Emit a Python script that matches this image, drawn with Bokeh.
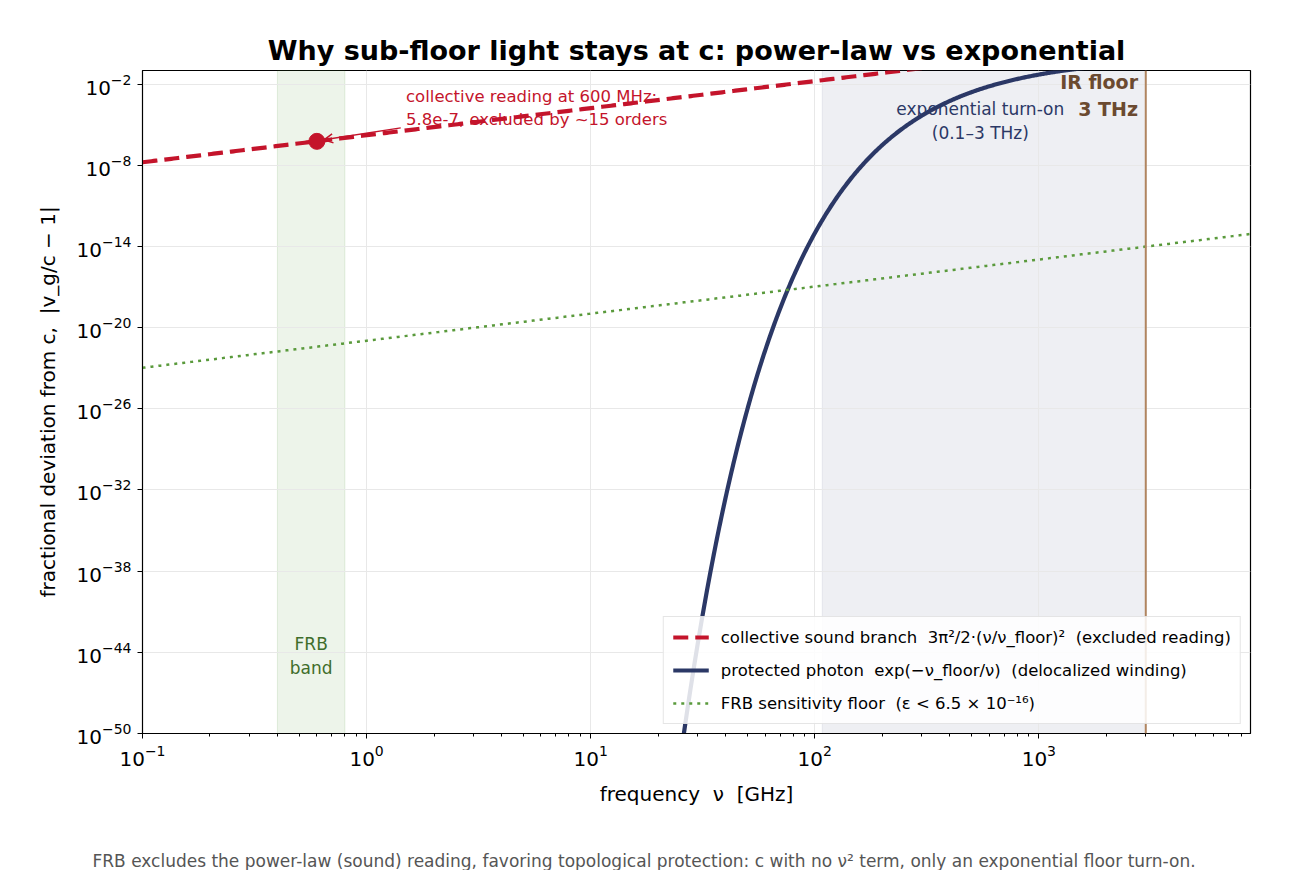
import numpy as np
from bokeh.plotting import figure
from bokeh.models import (Range1d, FixedTicker, LogTicker, BoxAnnotation, Span, Label,
                          Arrow, OpenHead, Legend, LegendItem, Title)
from bokeh.embed import file_html
from bokeh.resources import INLINE

# ---------------- data / parameters ----------------
nu_floor_ghz = 3000.0                 # IR floor, 3 THz
sound_prefactor = 3 * np.pi ** 2 / 2  # 3π²/2
frb_eps = 6.5e-16                     # FRB sensitivity
frb_band_ghz = [0.4, 0.8]
turnon_band_ghz = [108.0, 3000.0]
reading_nu_ghz = [0.6]
reading_value = [5.8e-7]
x_limits = [0.1, 8800.0]
y_limits = [1e-50, 1e-1]
y_tick_values = [1e-50, 1e-44, 1e-38, 1e-32, 1e-26, 1e-20, 1e-14, 1e-8, 1e-2]

nu = np.logspace(np.log10(x_limits[0]), np.log10(x_limits[1]), 500)
sound = sound_prefactor * (nu / nu_floor_ghz) ** 2
frb_floor = frb_eps * sound
nu_ph = np.logspace(np.log10(20.0), np.log10(nu_floor_ghz), 500)
photon = np.exp(-nu_floor_ghz / nu_ph)

RED = "#c4142b"
NAVY = "#2b3866"
GREEN = "#5a9a3c"
BROWN = "#b0855f"
FONT = "DejaVu Sans"
SP = "\u00a0"

p = figure(width=1290, height=870, x_axis_type="log", y_axis_type="log",
           x_range=Range1d(*x_limits), y_range=Range1d(*y_limits),
           output_backend="svg", toolbar_location=None,
           min_border_left=142, min_border_right=40, min_border_top=70,
           min_border_bottom=135)
p.background_fill_color = "white"
p.border_fill_color = "white"
p.outline_line_color = "black"
p.outline_line_width = 1.2

# title
p.title.text = "Why sub-floor light stays at c: power-law vs exponential"
p.title.align = "center"
p.title.text_font = FONT
p.title.text_font_size = "27px"
p.title.text_font_style = "bold"
p.title.text_color = "black"
p.title.standoff = 10

# footer (two empty lines above push it to the bottom edge of the canvas)
footer = Title(text="\n\nFRB excludes the power-law (sound) reading, favoring topological protection: "
                    "c with no ν² term, only an exponential floor turn-on.",
               align="left", offset=-50, text_font=FONT, text_font_size="17px",
               text_font_style="normal", text_color="#555555", standoff=0,
               text_line_height=1.0)
p.add_layout(footer, "below")

# axes
p.xaxis.ticker = LogTicker(num_minor_ticks=10)
p.yaxis.ticker = FixedTicker(ticks=y_tick_values)
for ax in (p.xaxis[0], p.yaxis[0]):
    ax.major_label_text_font = FONT
    ax.major_label_text_font_size = "20px"
    ax.major_label_text_color = "black"
    ax.axis_label_text_font = FONT
    ax.axis_label_text_font_size = "20px"
    ax.axis_label_text_font_style = "normal"
    ax.axis_label_text_color = "black"
    ax.axis_line_color = "black"
    ax.major_tick_line_color = "black"
    ax.minor_tick_line_color = "black"
    ax.major_tick_in = 0
    ax.major_tick_out = 5
    ax.minor_tick_in = 0
    ax.minor_tick_out = 3
    ax.major_label_standoff = 6
p.xaxis.axis_label = f"frequency{SP}{SP}ν{SP}{SP}[GHz]"
p.yaxis.axis_label = f"fractional deviation from c,{SP}{SP}|v_g/c − 1|"
p.xaxis.axis_label_standoff = 13
p.yaxis.axis_label_standoff = 14

p.xgrid.ticker = LogTicker(num_minor_ticks=10)
p.ygrid.ticker = FixedTicker(ticks=y_tick_values)
p.grid.grid_line_color = "#e8e8e8"
p.grid.grid_line_width = 1

# shaded bands
p.add_layout(BoxAnnotation(left=frb_band_ghz[0], right=frb_band_ghz[1], fill_color=GREEN,
                           fill_alpha=0.11, line_color=GREEN, line_alpha=0.15, level="image"))
p.add_layout(BoxAnnotation(left=turnon_band_ghz[0], right=turnon_band_ghz[1], fill_color=NAVY,
                           fill_alpha=0.08, line_color=NAVY, line_alpha=0.08, level="image"))

# curves
r_sound = p.line(nu, sound, line_color=RED, line_width=4.2, line_dash="15 7")
r_photon = p.line(nu_ph, photon, line_color=NAVY, line_width=4.2)
r_frb = p.line(nu, frb_floor, line_color=GREEN, line_width=2.5, line_dash="3 5")

# IR floor
p.add_layout(Span(location=nu_floor_ghz, dimension="height", line_color=BROWN, line_width=2))
p.add_layout(Label(x=2770, y=10 ** -2.85, text="IR floor\n3 THz", text_align="right",
                   text_baseline="middle", text_font=FONT, text_font_size="19px",
                   text_font_style="bold", text_color="#6b4a30"))

# band labels
p.add_layout(Label(x=548, y=10 ** -4.75, text="exponential turn-on\n(0.1–3 THz)", text_align="center",
                   text_baseline="middle", text_font=FONT, text_font_size="17px",
                   text_color=NAVY))
p.add_layout(Label(x=0.566, y=10 ** -44.3, text="FRB\nband", text_align="center",
                   text_baseline="middle", text_font=FONT, text_font_size="17px",
                   text_color="#3f6d2b"))

# reading point + annotation
p.add_layout(Arrow(end=OpenHead(size=9, line_color=RED, line_width=1.5),
                   x_start=1.42, y_start=10 ** -5.24, x_end=0.645, y_end=10 ** -6.12,
                   line_color=RED, line_width=1.5))
p.scatter(reading_nu_ghz, reading_value, size=16, color=RED)
p.add_layout(Label(x=1.5, y=10 ** -2.2, text="collective reading at 600 MHz:\n5.8e-7, excluded by ~15 orders",
                   text_align="left", text_baseline="top", text_font=FONT, text_font_size="16.5px",
                   text_color=RED))

# legend
legend = Legend(items=[
    LegendItem(label=f"collective sound branch{SP}{SP}3π²/2·(ν/ν_floor)²{SP}{SP}(excluded reading)", renderers=[r_sound]),
    LegendItem(label=f"protected photon{SP}{SP}exp(−ν_floor/ν){SP}{SP}(delocalized winding)", renderers=[r_photon]),
    LegendItem(label=f"FRB sensitivity floor{SP}{SP}(ε < 6.5 × 10⁻¹⁶)", renderers=[r_frb]),
], location="bottom_right")
legend.label_text_font = FONT
legend.label_text_font_size = "16.5px"
legend.label_text_color = "black"
legend.glyph_width = 36
legend.glyph_height = 22
legend.spacing = 11
legend.padding = 9
legend.margin = 9
legend.label_standoff = 12
legend.border_line_color = "#cccccc"
legend.border_line_width = 1.2
legend.background_fill_alpha = 0.85
p.add_layout(legend)

open("out.html", "w").write(file_html(p, INLINE))
